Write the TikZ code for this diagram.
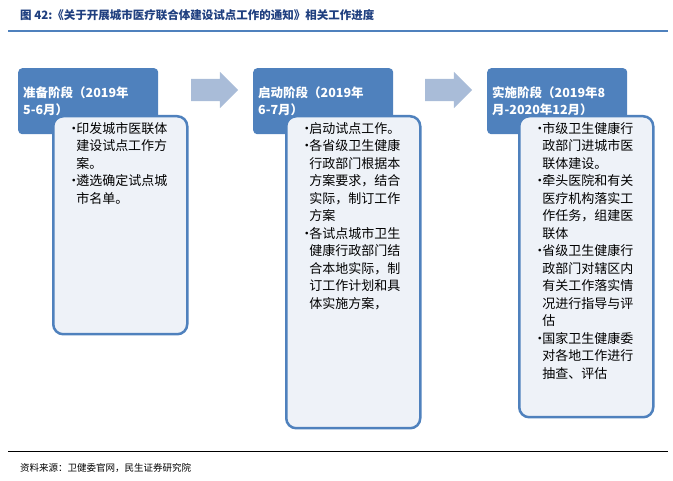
\documentclass[tikz,border=0pt]{standalone}
\usepackage{fontspec}
\setmainfont{Noto Sans CJK SC}
\XeTeXlinebreaklocale "zh"
\XeTeXlinebreakskip=0pt plus 1pt
\usepackage{tikz}
\usetikzlibrary{positioning,shapes.arrows}
\definecolor{hdblue}{HTML}{4F81BD}
\definecolor{titleblue}{HTML}{1F3F7F}
\definecolor{arrowgrey}{HTML}{A9BCD8}
\definecolor{boxfill}{HTML}{EEF2F8}
\newcommand{\itm}[1]{\par\hangindent=9pt\hangafter=1\noindent\makebox[9pt][l]{\textbullet}#1\par}
\newcommand{\boxtext}[2]{\parbox[t][#1][t]{106pt}{\raggedright#2}}

\begin{document}
\begin{tikzpicture}[x=1pt,y=-1pt]
                \tikzstyle{header} = [rectangle, rounded corners=4pt, fill=hdblue, text=white, font=\bfseries\fontsize{12.5}{17}\selectfont, text width=130pt, align=left, inner sep=5pt, minimum height=66pt, anchor=north west]
                \tikzstyle{content} = [rectangle, rounded corners=10pt, draw=hdblue, line width=2.5pt, fill=boxfill, font=\fontsize{13}{17.5}\selectfont, inner xsep=14pt, inner ysep=6pt, anchor=north west]
                \tikzstyle{stagearrow} = [single arrow, fill=arrowgrey, minimum width=36pt, single arrow head extend=7pt, minimum height=47pt, inner xsep=0pt, inner ysep=11pt]
                \useasboundingbox (0,0) rectangle (673,481);
                \node (title) [anchor=west, text=titleblue, font=\bfseries\fontsize{11.5}{13}\selectfont, inner sep=0pt] at (20,15) {图 42:《关于开展城市医疗联合体建设试点工作的通知》相关工作进度};
                \draw [hdblue, line width=1.2pt] (8,31) -- (668,31);

                \node (head1) [header] at (18,68) {准备阶段（2019年\\5-6月）};
                \node (head2) [header] at (253,68) {启动阶段（2019年\\6-7月）};
                \node (head3) [header] at (487,68) {实施阶段（2019年8\\月-2020年12月）};

                \node (box1) [content] at (52,115) {\boxtext{206pt}{\itm{印发城市医联体建设试点工作方案。}\itm{遴选确定试点城市名单。}}};
                \node (box2) [content] at (285,115) {\boxtext{300pt}{\itm{启动试点工作。}\itm{各省级卫生健康行政部门根据本方案要求，结合实际，制订工作方案}\itm{各试点城市卫生健康行政部门结合本地实际，制订工作计划和具体实施方案，}}};
                \node (box3) [content] at (518,115) {\boxtext{289pt}{\itm{市级卫生健康行政部门进城市医联体建设。}\itm{牵头医院和有关医疗机构落实工作任务，组建医联体}\itm{省级卫生健康行政部门对辖区内有关工作落实情况进行指导与评估}\itm{国家卫生健康委对各地工作进行抽查、评估}}};

                \node (arrow1) [stagearrow] at (209,90) {};
                \node (arrow2) [stagearrow] at (443,90) {};

                \draw [black, line width=1pt] (8,452) -- (668,452);
                \node (source) [anchor=west, font=\fontsize{9.5}{11}\selectfont, inner sep=0pt] at (20,468) {资料来源：卫健委官网，民生证券研究院};
\end{tikzpicture}
\end{document}
